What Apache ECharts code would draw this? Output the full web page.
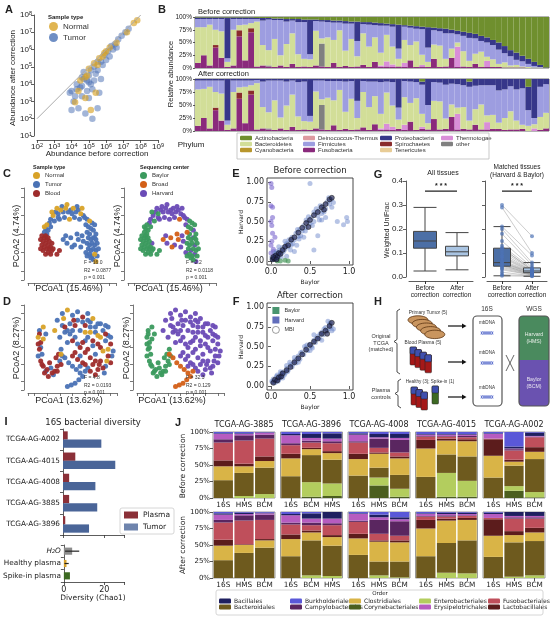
<!DOCTYPE html>
<html>
<head>
<meta charset="utf-8">
<script src="https://cdn.jsdelivr.net/npm/echarts@6/dist/echarts.min.js"></script>
<style>
html, body { margin: 0; padding: 0; background: #fff; }
#main { width: 554px; height: 621px; }
</style>
</head>
<body>
<div id="main"></div>
<script>
// ---------------- data ----------------
// A: abundance before / after correction
const aTumor = [[1.3e7,1e7],[7.9e6,6.3e6],[5e6,4e6],[3.2e6,2e6],[2e6,1.6e6],[1.3e6,7.9e5],[7.9e5,5e5],[5e5,2e5],
  [3.2e5,2e5],[2e5,1e5],[1.3e5,6.3e4],[1e5,3.2e4],[7.9e4,1.6e4],[5e4,2e4],[4e4,7.9e3],[3.2e4,6.3e3],[2e4,5e3],
  [1.6e4,2e3],[1e4,4e3],[1.3e4,1e3],[4e4,2e3],[7.9e4,4e3],[1.3e5,1e4],[2e5,1.6e4],[3.2e5,6.3e4],[1.6e5,5e3],
  [4e5,3.2e3],[2.5e4,4e2],[6.3e4,2e2],[1.6e5,1e2],[1e4,3.2e2],[3.2e5,4e2],[5e4,5e4],[6.3e5,1.3e5],[1.6e6,4e5],
  [4e6,1.3e6],[2e7,1.6e7],[1e6,2.5e5],[2.5e5,4e4],[2e4,1e4],[7.9e3,3.2e3],[1e5,1.6e3],[5e5,2e4],[2.5e6,1e6],
  [1e5,1.3e4],[4e4,2.5e4]];
const aNormal = [[4e7,3.5e7],[6.3e7,5e7],[1.6e7,1e7],[4e6,2.5e6],[1.6e6,1.3e6],[7.9e5,6.3e5],[4e5,3.2e5],[2e5,1.6e5],
  [1e5,7.9e4],[6.3e4,2.5e4],[3.2e4,1.6e4],[6.3e4,1.6e3],[2.5e5,3.2e3],[1.6e4,9e2],[1.3e5,3.2e2],[2.5e4,4e3],
  [6.3e5,4e5],[1e6,7.9e5],[3.2e5,1.3e5],[7.9e4,3.2e4]];
const aIdentity = [[1e2,1e2],[1e8,1e8]];

// B: phylum composition per sample, columns in stacking order
const bPhyla = ['Fusobacteria','Spirochaetes','other','Thermotogae','Bacteroidetes','Firmicutes','Proteobacteria','Actinobacteria'];
const bEmpty = ['Cyanobacteria','Deinococcus-Thermus','Tenericutes'];
const bBefore = [
  [10,0,0,0,70,16,3,1],[25,0,0,0,55,16,3,1],[5,0,0,0,80,11,3,1],[40,5,0,0,30,21,3,1],[20,0,0,0,52,24,3,1],
  [2,0,0,0,10,7,80,1],[5,0,0,0,70,21,3,1],[62,12,0,0,10,12,3,1],[15,0,0,0,70,11,3,1],[70,8,0,0,10,8,3,1],
  [3,0,0,0,88,5,2,2],[5,0,0,0,40,48,5,2],[3,0,2,0,30,60,3,2],[2,0,0,0,55,37,3,3],[5,0,0,0,20,69,3,3],
  [2,0,0,0,45,44,5,4],[8,0,0,0,60,25,3,4],[2,0,0,0,25,63,6,4],[3,0,0,0,15,72,5,5],[2,0,0,0,15,10,68,5],
  [5,0,0,0,68,19,3,5],[3,0,45,0,10,33,3,6],[2,0,0,0,58,30,4,6],[10,0,0,0,45,34,4,7],[2,0,0,0,72,15,4,7],
  [4,0,0,0,30,53,5,8],[2,0,0,0,55,30,4,9],[3,0,0,0,20,30,38,9],[6,0,0,0,62,18,4,10],[2,0,0,0,40,43,5,10],
  [12,0,0,0,48,24,5,11],[2,0,0,3,25,53,5,12],[3,0,0,10,52,18,4,13],[2,0,0,5,35,39,5,14],[3,0,0,0,15,20,47,15],
  [2,0,0,8,45,26,3,16],[15,0,0,0,30,34,4,17],[2,0,0,0,50,25,5,18],[3,0,0,3,20,50,5,19],[2,0,0,0,10,28,40,20],
  [18,0,0,0,28,28,5,21],[2,0,0,0,42,28,6,22],[3,0,0,0,15,50,9,23],[20,0,0,0,18,30,7,25],[2,0,0,40,8,16,7,27],
  [3,0,0,0,30,30,8,29],[2,0,0,0,12,45,10,31],[8,0,0,0,20,30,9,33],[2,0,0,0,30,21,10,37],[2,0,0,12,8,28,10,40],
  [2,0,0,0,15,28,10,45],[2,0,0,0,6,28,14,50],[1,0,0,0,10,18,14,57],[1,0,0,0,4,18,12,65],[1,0,0,0,5,10,14,70],
  [1,0,0,0,2,10,11,76],[0,0,0,0,2,6,10,82],[0,0,0,0,1,3,8,88],[0,0,0,0,1,1,4,94],[0,0,0,0,0,0,1,99]];
const bAfter = [
  [10,0,0,0,70,17,3,0],[25,0,0,0,56,16,3,0],[5,0,0,0,80,12,3,0],[40,5,0,0,30,22,3,0],[20,0,0,0,52,25,3,0],
  [2,0,0,0,10,8,80,0],[5,0,0,0,70,22,3,0],[62,12,0,0,10,13,3,0],[15,0,0,0,70,12,3,0],[70,8,0,0,10,9,3,0],
  [3,0,0,0,89,6,2,0],[5,0,0,0,41,49,5,0],[3,0,2,0,31,61,3,0],[2,0,0,0,57,38,3,0],[5,0,0,0,21,71,3,0],
  [2,0,0,0,47,46,5,0],[8,0,0,0,62,27,3,0],[2,0,0,0,26,66,6,0],[3,0,0,0,16,76,5,0],[2,0,0,0,16,11,71,0],
  [5,0,0,0,71,21,3,0],[3,0,47,0,11,36,3,0],[2,0,0,0,62,32,4,0],[11,0,0,0,48,37,4,0],[2,0,0,0,77,17,4,0],
  [4,0,0,0,33,58,5,0],[2,0,0,0,60,34,4,0],[3,0,0,0,22,33,42,0],[7,0,0,0,68,21,4,0],[2,0,0,0,44,49,5,0],
  [13,0,0,0,54,28,5,0],[2,0,0,3,28,61,6,0],[3,0,0,11,60,21,5,0],[2,0,0,6,41,45,6,0],[4,0,0,0,18,23,55,0],
  [2,0,0,10,53,31,4,0],[18,0,0,0,36,41,5,0],[2,0,0,0,61,31,6,0],[4,0,0,4,25,56,6,5],[3,0,0,0,12,35,50,0],
  [23,0,0,0,35,36,6,0],[3,0,0,0,54,36,7,0],[4,0,0,0,20,65,11,0],[27,0,0,0,24,40,9,0],[3,0,0,30,12,45,10,0],
  [4,0,0,0,42,42,12,0],[3,0,0,0,17,65,10,5],[12,0,0,0,30,45,13,0],[3,0,0,0,48,37,12,0],[3,0,0,14,13,58,12,0],
  [4,0,0,0,27,57,12,0],[4,0,0,0,12,62,22,0],[2,0,0,0,23,55,20,0],[3,0,0,0,35,48,14,0],[3,0,0,0,17,60,20,0],
  [4,0,0,0,8,70,18,0],[0,0,0,0,10,30,45,15],[0,0,0,5,8,12,75,0],[2,0,0,0,25,58,15,0],[5,0,0,0,30,55,10,0]];

// C / D: PCoA coordinates [PCoA1, PCoA2, sample type, sequencing center]
// type: N normal, T tumor, B blood; center: Y Baylor, R Broad, H Harvard
const cPoints = [
  [-0.25,-0.03,'B','Y'],[-0.24,-0.06,'B','Y'],[-0.23,-0.09,'B','Y'],[-0.22,-0.02,'B','Y'],[-0.21,-0.05,'B','Y'],
  [-0.20,-0.08,'B','Y'],[-0.19,-0.10,'B','Y'],[-0.18,-0.04,'B','Y'],[-0.17,-0.07,'B','Y'],[-0.16,-0.09,'B','Y'],
  [-0.24,-0.01,'B','Y'],[-0.22,-0.07,'B','Y'],[-0.20,-0.03,'B','Y'],[-0.18,-0.08,'B','Y'],[-0.16,-0.05,'B','H'],
  [-0.25,-0.08,'B','Y'],[-0.21,-0.11,'B','Y'],[-0.19,-0.06,'B','Y'],[-0.17,-0.11,'B','Y'],[-0.23,-0.04,'B','Y'],
  [-0.15,-0.08,'B','Y'],[-0.12,-0.11,'B','Y'],[-0.21,-0.01,'B','Y'],[-0.19,-0.02,'B','Y'],[-0.10,-0.09,'B','Y'],
  [-0.22,0.01,'T','Y'],[-0.21,0.03,'T','Y'],[-0.20,0.05,'N','Y'],[-0.19,0.02,'T','Y'],[-0.18,0.06,'T','H'],
  [-0.22,0.04,'N','Y'],[-0.17,0.04,'T','Y'],[-0.20,0.00,'T','Y'],
  [-0.17,0.08,'T','H'],[-0.15,0.10,'N','H'],[-0.13,0.12,'T','H'],[-0.11,0.11,'T','Y'],[-0.09,0.13,'N','H'],
  [-0.07,0.12,'T','H'],[-0.05,0.14,'N','H'],[-0.03,0.12,'T','H'],[-0.01,0.13,'T','H'],[0.01,0.14,'N','H'],
  [0.03,0.12,'T','H'],[0.05,0.13,'T','H'],[0.07,0.11,'N','H'],[0.09,0.10,'T','H'],[-0.14,0.07,'T','Y'],
  [-0.10,0.08,'T','H'],[-0.06,0.09,'T','H'],[-0.02,0.08,'N','H'],[0.02,0.09,'T','H'],[0.06,0.08,'T','R'],
  [-0.12,0.14,'N','H'],[-0.04,0.16,'N','H'],[0.00,0.11,'T','H'],[0.04,0.15,'T','H'],[-0.08,0.15,'T','H'],
  [0.08,0.14,'N','H'],[-0.16,0.12,'N','Y'],[-0.11,0.09,'T','H'],
  [0.10,0.09,'T','H'],[0.12,0.08,'T','H'],[0.14,0.07,'N','Y'],[0.16,0.06,'T','Y'],[0.11,0.05,'T','H'],
  [0.13,0.04,'T','Y'],[0.15,0.03,'T','Y'],[0.17,0.02,'T','H'],[0.18,0.05,'T','Y'],[0.12,0.01,'T','R'],
  [0.19,0.00,'T','Y'],[0.14,0.00,'T','Y'],
  [0.13,-0.02,'T','Y'],[0.15,-0.03,'T','Y'],[0.17,-0.02,'T','H'],[0.19,-0.03,'T','Y'],[0.12,-0.05,'T','Y'],
  [0.14,-0.06,'T','Y'],[0.16,-0.05,'T','Y'],[0.18,-0.06,'T','H'],[0.20,-0.05,'T','Y'],[0.13,-0.08,'T','Y'],
  [0.15,-0.09,'T','H'],[0.17,-0.08,'T','Y'],[0.19,-0.09,'T','Y'],[0.14,-0.11,'T','Y'],[0.16,-0.12,'T','Y'],
  [0.18,-0.11,'N','H'],[0.20,-0.12,'T','Y'],[0.17,-0.14,'T','Y'],[0.19,-0.15,'N','H'],[0.11,-0.10,'T','H'],
  [0.21,-0.08,'T','Y'],[0.15,-0.13,'T','Y'],[0.18,-0.02,'T','Y'],[0.12,-0.12,'T','Y'],
  [-0.07,-0.03,'T','R'],[-0.04,-0.05,'T','H'],[-0.01,-0.02,'T','R'],[0.02,-0.06,'T','H'],[0.05,-0.03,'T','R'],
  [0.07,-0.07,'T','H'],[0.09,-0.04,'T','H'],[0.00,-0.07,'T','R'],[-0.05,-0.01,'T','H'],[0.04,0.00,'T','R'],
  [0.08,-0.01,'T','H']];
const dPoints = [
  [-0.26,0.10,'T','Y'],[-0.27,0.06,'N','Y'],[-0.25,0.03,'B','Y'],[-0.26,-0.01,'B','Y'],[-0.24,-0.04,'T','Y'],
  [-0.25,-0.08,'B','Y'],[-0.23,-0.11,'B','Y'],[-0.20,-0.13,'B','Y'],[-0.17,-0.12,'T','Y'],[-0.14,-0.14,'B','Y'],
  [-0.12,-0.11,'B','Y'],[-0.10,-0.08,'T','Y'],[-0.11,-0.04,'B','Y'],[-0.09,-0.01,'T','Y'],[-0.22,-0.15,'B','Y'],
  [-0.18,-0.09,'B','Y'],[-0.21,0.08,'T','Y'],[-0.23,0.12,'N','Y'],[-0.15,-0.16,'T','Y'],[-0.19,-0.17,'B','Y'],
  [-0.13,-0.06,'B','Y'],[-0.27,-0.05,'T','Y'],[-0.26,0.08,'B','Y'],[-0.25,0.00,'T','Y'],[-0.24,-0.10,'B','Y'],
  [-0.21,-0.14,'T','Y'],[-0.16,-0.15,'B','Y'],[-0.12,-0.14,'B','Y'],[-0.09,-0.10,'B','Y'],[-0.08,-0.05,'T','Y'],
  [-0.23,0.05,'N','Y'],[-0.27,0.02,'B','Y'],
  [-0.12,0.16,'T','H'],[-0.08,0.20,'T','H'],[-0.04,0.22,'N','H'],[0.00,0.19,'T','H'],[0.04,0.21,'T','H'],
  [0.08,0.18,'B','H'],[0.12,0.20,'T','H'],[-0.14,0.10,'N','H'],[-0.06,0.12,'B','H'],[-0.02,0.08,'T','H'],
  [0.02,0.13,'B','H'],[0.06,0.10,'T','H'],[0.10,0.13,'B','H'],[0.14,0.12,'T','H'],[0.18,0.09,'T','H'],
  [0.22,0.06,'N','H'],[0.26,0.04,'T','H'],[0.30,0.02,'B','H'],[0.32,-0.02,'T','H'],[0.28,-0.05,'B','H'],
  [0.24,-0.02,'N','H'],[0.20,0.02,'B','H'],[0.16,0.04,'B','H'],[0.12,0.06,'T','H'],[0.08,0.03,'B','H'],
  [0.04,0.02,'T','H'],[0.00,0.04,'B','H'],[-0.04,0.03,'T','H'],[0.02,-0.03,'B','H'],[0.06,-0.05,'T','H'],
  [0.10,-0.03,'B','H'],[0.14,-0.06,'B','H'],[0.18,-0.04,'T','H'],[0.22,-0.08,'B','H'],[0.26,-0.11,'T','H'],
  [0.30,-0.09,'B','H'],[0.20,-0.13,'B','H'],[0.16,-0.10,'B','H'],[0.12,-0.12,'T','H'],[0.08,-0.09,'B','H'],
  [0.24,0.10,'T','H'],[0.20,0.14,'T','H'],[0.16,0.17,'N','H'],[0.28,0.07,'T','H'],[-0.10,0.06,'T','H'],
  [0.04,0.16,'T','H'],[-0.02,0.14,'T','H'],[0.10,0.09,'N','H'],[0.18,-0.16,'B','H'],[0.25,-0.15,'T','H'],
  [0.12,0.16,'T','H'],[0.00,0.10,'T','H'],[0.28,0.12,'T','H'],[-0.07,0.17,'N','H'],
  [-0.06,0.09,'T','H'],[0.00,-0.05,'B','H'],[0.02,0.06,'T','H'],[0.06,0.00,'B','H'],[0.10,0.04,'T','H'],
  [0.14,0.09,'N','H'],[0.18,0.12,'T','H'],[0.22,0.14,'T','H'],[0.26,0.08,'B','H'],[0.30,0.06,'T','H'],
  [0.22,0.00,'B','H'],[0.18,-0.08,'B','H'],[0.14,-0.14,'B','H'],[0.10,-0.10,'B','H'],[0.06,-0.11,'T','H'],
  [0.24,-0.12,'B','H'],[0.28,-0.01,'N','H'],[0.08,0.15,'T','H'],[-0.04,0.10,'T','H'],[0.16,0.01,'T','H'],
  [0.12,-0.01,'B','H'],[0.04,-0.07,'B','H'],[0.20,0.07,'N','H'],[0.26,0.13,'T','H'],[-0.08,0.13,'T','H'],
  [0.01,0.16,'B','H'],[0.14,0.15,'T','H'],[0.31,-0.05,'T','H'],[0.27,-0.08,'N','H'],[0.21,-0.10,'B','H'],
  [-0.06,-0.06,'T','R'],[-0.03,-0.09,'T','R'],[0.00,-0.11,'T','R'],[0.03,-0.13,'T','R'],[0.06,-0.15,'T','R'],
  [0.08,-0.17,'T','R'],[0.05,-0.19,'T','R'],[0.02,-0.21,'T','R'],[-0.01,-0.22,'T','R'],[-0.04,-0.23,'T','R'],
  [-0.09,-0.04,'N','R'],[0.10,-0.14,'T','R']];
const cStats = [['F = 16.0', 'R2 = 0.0877', 'p = 0.001'], ['F = 2.2', 'R2 = 0.0118', 'p = 0.001']];
const dStats = [['F = 4.8', 'R2 = 0.0193', 'p = 0.001'], ['F = 32.3', 'R2 = 0.129', 'p = 0.001']];

// E / F: relative abundance Baylor (x) vs Harvard (y)
const eBoth = [[0.02,0.03],[0.04,0.06],[0.06,0.04],[0.08,0.1],[0.1,0.07],[0.12,0.12],[0.05,0.1],[0.14,0.1],[0.15,0.17],
  [0.18,0.15],[0.2,0.22],[0.22,0.18],[0.25,0.25],[0.27,0.3],[0.3,0.27],[0.32,0.35],[0.35,0.31],[0.37,0.4],[0.4,0.38],
  [0.42,0.45],[0.45,0.42],[0.47,0.5],[0.5,0.47],[0.52,0.55],[0.55,0.5],[0.57,0.6],[0.6,0.57],[0.62,0.64],[0.65,0.6],
  [0.67,0.7],[0.7,0.66],[0.72,0.75],[0.75,0.72],[0.77,0.78],[0.8,0.74],[0.63,0.7],[0.55,0.62],[0.45,0.52],[0.38,0.32],
  [0.28,0.22],[0.18,0.25],[0.1,0.18],[0.97,0.55],[0.98,0.5],[0.93,0.46],[0.85,0.5],[0.5,0.98],[0.6,0.32],[0.55,0.14],
  [0.3,0.12],[0.2,0.06],[0.42,0.3],[0.65,0.52],[0.7,0.55],[0.08,0.03],[0.03,0.12],[0.13,0.05],[0.25,0.14],[0.33,0.2],
  [0.01,0.05],[0.03,0.02],[0.05,0.07],[0.07,0.12],[0.09,0.05],[0.11,0.14],[0.16,0.12],[0.19,0.2],[0.23,0.27],[0.26,0.2],
  [0.34,0.4],[0.36,0.28],[0.44,0.38],[0.48,0.56],[0.53,0.45],[0.58,0.66],[0.62,0.52],[0.68,0.62],[0.74,0.8],[0.78,0.68]];
const eMbi = [[0.02,0.02],[0.04,0.03],[0.06,0.07],[0.08,0.05],[0.1,0.1],[0.12,0.09],[0.15,0.14],[0.18,0.18],[0.22,0.2],
  [0.26,0.27],[0.3,0.3],[0.35,0.36],[0.4,0.42],[0.45,0.48],[0.5,0.52],[0.55,0.58],[0.6,0.62],[0.65,0.68],[0.7,0.72],
  [0.75,0.78],[0.78,0.8],[0.68,0.65],[0.48,0.43],[0.03,0.05],[0.07,0.02]];
const eHarvardOnly = [[0,0.98],[0.01,0.93],[0,0.7],[0.02,0.68],[0,0.5],[0.01,0.45],[0.02,0.35],[0.01,0.25],[0,0.2],
  [0.03,0.15],[0.05,0.3],[0.02,0.55],[0,0.1]];
const eBaylorOnly = [[0.12,0],[0.18,0.01],[0.22,0],[0.08,0]];
const fBoth = [[0.02,0.05],[0.04,0.07],[0.06,0.06],[0.08,0.1],[0.1,0.08],[0.12,0.14],[0.14,0.12],[0.16,0.18],[0.18,0.16],
  [0.2,0.22],[0.22,0.2],[0.25,0.27],[0.27,0.24],[0.3,0.32],[0.32,0.29],[0.35,0.38],[0.37,0.34],[0.4,0.43],[0.42,0.4],
  [0.45,0.48],[0.47,0.45],[0.5,0.53],[0.52,0.5],[0.55,0.58],[0.57,0.55],[0.6,0.63],[0.62,0.6],[0.65,0.68],[0.67,0.65],
  [0.7,0.74],[0.72,0.7],[0.75,0.78],[0.77,0.75],[0.73,0.82],[0.55,0.65],[0.43,0.5],[0.3,0.36],[0.2,0.26],[0.12,0.18],
  [0.08,0.14],[0.65,0.58],[0.5,0.45],[0.35,0.3],[0.15,0.1],[0.8,0.72],[0.78,0.7],
  [0.01,0.06],[0.03,0.09],[0.05,0.04],[0.07,0.12],[0.09,0.06],[0.11,0.1],[0.13,0.16],[0.17,0.14],[0.21,0.18],[0.24,0.3],
  [0.28,0.28],[0.33,0.34],[0.38,0.42],[0.46,0.52],[0.53,0.48],[0.58,0.6],[0.63,0.66],[0.68,0.72],[0.74,0.72],[0.76,0.8]];
const fMbi = [[0.03,0.04],[0.05,0.08],[0.08,0.07],[0.1,0.11],[0.13,0.12],[0.15,0.16],[0.2,0.2],[0.25,0.24],[0.3,0.3],
  [0.35,0.35],[0.4,0.4],[0.45,0.46],[0.5,0.52],[0.55,0.56],[0.6,0.6],[0.65,0.66],[0.7,0.7],[0.75,0.76],[0.78,0.8],[0.72,0.66]];

// G: weighted UniFrac, box stats [min, Q1, median, Q3, max]
const gCats = ['Before\ncorrection', 'After\ncorrection'];
const gAllBox = [[0.025, 0.12, 0.15, 0.19, 0.29], [0.03, 0.088, 0.105, 0.128, 0.185]];
const gMatchedBox = [[0.005, 0.045, 0.06, 0.12, 0.21], [0.003, 0.018, 0.025, 0.038, 0.06]];
const gMatchedBefore = [0.30,0.29,0.21,0.20,0.18,0.15,0.13,0.12,0.12,0.11,0.10,0.09,0.085,0.08,0.07,0.065,0.06,0.06,0.055,0.05,0.05,0.045,0.04,0.035,0.03,0.02,0.01,0.005];
const gMatchedAfter = [0.17,0.10,0.09,0.06,0.05,0.04,0.035,0.03,0.03,0.028,0.025,0.025,0.022,0.02,0.02,0.018,0.018,0.015,0.015,0.012,0.012,0.01,0.01,0.008,0.008,0.005,0.005,0.003];

// I: Chao1 diversity
const iSamples = ['TCGA-AG-A002', 'TCGA-AG-4015', 'TCGA-AG-4008', 'TCGA-AG-3885', 'TCGA-AG-3896'];
const iPlasma = [2.3, 6.0, 3.0, 3.0, 1.1];
const iTumor = [18.7, 25.5, 15.8, 16.7, 12.7];
const iControls = ['H2O', 'Healthy plasma', 'Spike-in plasma'];
const iControlMean = [4.1, 1.3, 3.0];
const iControlRange = [[0.6, 7.6], [0.3, 2.4]];

// J: order composition per sample / method, columns in stacking order
const jSamples = ['TCGA-AG-3885', 'TCGA-AG-3896', 'TCGA-AG-4008', 'TCGA-AG-4015', 'TCGA-AG-A002'];
const jMethods = [['16S','HMS','BCM'], ['16S','BCM','HMS'], ['16S','HMS','BCM'], ['16S','HMS','BCM'], ['16S','HMS','BCM']];
const jOrders = ['Corynebacteriales','Enterobacteriales','Bacteroidales','Clostridiales','Lactobacillales',
  'Fusobacteriales','Campylobacterales','Erysipelotrichales','Bacillales','Burkholderiales'];
const jBefore = [
  [[0,0,27,21,9,27,5,8,1,2], [0,3,35,10,4,35,8,2,1,2], [0,6,40,10,7,27,6,3,0.5,0.5]],
  [[0,0,33,27,7,13,3,12,2,3], [2,22,41,9,2,8,3,4,6,3], [3,19,36,10,3,12,3,4,8,2]],
  [[0,0,34,25,8,17,2,10,2,2], [19,12,15,21,2,7,14,2,5,3], [2,12,21,25,3,6,19,3,6,3]],
  [[0,0,32,43,13,5,1,2,1,3], [2,36,28,21,3,3,1,2,1,3], [2,24,37,23,3,3,2,2,1,3]],
  [[0,0,31,33,25,1,0,7,1,2], [11,7,31,6,3,14,2,1,3,22], [1,8,50,11,7,15,1,1,5,1]]];
const jAfter = [
  [[0,0,27,22,9,26,4,8,2,2], [0,0,38,12,1,36,8,2,2,1], [0,0,46,11,2,29,8,2,1,1]],
  [[0,0,33,26,7,15,3,11,2,3], [0,4,53,12,3,8,4,6,8,2], [0,3,46,13,3,15,3,7,10,0]],
  [[0,0,35,25,7,18,2,10,1,2], [0,4,21,30,2,10,21,4,4,4], [0,1,24,29,3,7,22,3,3,8]],
  [[0,0,33,42,13,5,1,3,1,2], [0,8,45,34,3,3,2,2,2,1], [0,7,50,31,3,3,1,2,2,1]],
  [[0,0,32,32,25,2,0,6,2,1], [0,2,52,11,6,19,2,2,6,0], [0,4,52,13,7,14,2,2,6,0]]];

// ---------------- styles ----------------
const FA = 'Liberation Sans', FM = 'DejaVu Sans', INK = '#222';
const phylumColor = {
  'Actinobacteria': '#6f8f2e', 'Bacteroidetes': '#d2de98', 'Cyanobacteria': '#b8962c', 'Deinococcus-Thermus': '#dd9aa0',
  'Firmicutes': '#9d9de0', 'Fusobacteria': '#8a2a7c', 'Proteobacteria': '#37378a', 'Spirochaetes': '#8a2c2c',
  'Tenericutes': '#e8cc96', 'Thermotogae': '#d98ed8', 'other': '#808080'
};
const orderColor = {
  'Corynebacteriales': '#4b5e1f', 'Enterobacteriales': '#b3cd5e', 'Bacteroidales': '#6e5a1e', 'Clostridiales': '#d9b447',
  'Lactobacillales': '#5c1c1c', 'Fusobacteriales': '#bf4f5b', 'Campylobacterales': '#5a2660',
  'Erysipelotrichales': '#b65cc0', 'Bacillales': '#1f2060', 'Burkholderiales': '#5a58d8'
};
const typeGroups = [['T', 'Tumor', '#4a72b5'], ['B', 'Blood', '#9e2b2b'], ['N', 'Normal', '#d8a227']];
const centerGroups = [['H', 'Harvard', '#6a4bb6'], ['Y', 'Baylor', '#3b9a5e'], ['R', 'Broad', '#d35f17']];

// ---------------- builders ----------------
const chart = echarts.init(document.getElementById('main'));
const grid = [], xAxis = [], yAxis = [], series = [], legend = [], graphic = [];

function addGrid(rect, xa, ya) {
  const i = grid.length;
  grid.push(Object.assign({ show: false }, rect));
  xAxis.push(Object.assign({ gridIndex: i }, xa));
  yAxis.push(Object.assign({ gridIndex: i }, ya));
  return i;
}
function on(gi, s) {
  s.xAxisIndex = gi;
  s.yAxisIndex = gi;
  series.push(s);
}
function txt(x, y, s, o) {
  o = o || {};
  const style = {
    text: s, fill: o.color || INK, fontSize: o.size || 8, fontFamily: o.font || FA,
    fontWeight: o.weight || 'normal', fontStyle: o.style || 'normal',
    textAlign: o.align || 'center', verticalAlign: o.va || 'middle'
  };
  if (o.lh) style.lineHeight = o.lh;
  graphic.push({ type: 'text', x: x, y: y, rotation: o.rot || 0, silent: true, z: 50, style: style });
}
function shape(type, sh, st, z) {
  graphic.push({ type: type, shape: sh, style: st, silent: true, z: z || 40 });
}
const axLine = (c, w) => ({ show: true, onZero: false, lineStyle: { color: c || '#333', width: w || 0.8 } });
const axTick = (len, c) => ({ show: true, length: len || 3, lineStyle: { color: c || '#333', width: 0.8 } });
const noSplit = { show: false };
const hidden = { type: 'value', show: false };
const pct = v => v + '%';

// ---------------- A ----------------
const supFmt = v => '10{e|' + Math.round(Math.log10(v)) + '}';
const supRich = { e: { fontSize: 5.5, verticalAlign: 'top', padding: [0, 0, 4, 0] } };
const logAxis = (min, max, off) => ({
  type: 'log', logBase: 10, min: min, max: max, splitNumber: 7, offset: off,
  axisLine: axLine(), axisTick: axTick(), splitLine: noSplit,
  axisLabel: { fontSize: 8, margin: 2, color: INK, fontFamily: FA, formatter: supFmt, rich: supRich }
});
const gA = addGrid({ left: 37, top: 15, width: 121, height: 121 }, logAxis(1e2, 1e9, 4), logAxis(1e1, 1e8, 3));
on(gA, { type: 'line', data: aIdentity, symbol: 'none', silent: true, lineStyle: { color: '#aaa', width: 1 } });
on(gA, { type: 'scatter', name: 'Tumor', data: aTumor, symbolSize: 6.5, itemStyle: { color: 'rgba(76,114,181,0.65)' } });
on(gA, { type: 'scatter', name: 'Normal', data: aNormal, symbolSize: 6.5, itemStyle: { color: 'rgba(216,162,39,0.8)' } });
legend.push({ left: 49, top: 22, padding: 0, orient: 'vertical', itemGap: 2, itemWidth: 9, itemHeight: 9, icon: 'circle',
  textStyle: { fontSize: 8, color: '#333', fontFamily: FA },
  data: [{ name: 'Normal', itemStyle: { color: '#d8a227' } }, { name: 'Tumor', itemStyle: { color: '#4a72b5' } }] });
txt(48, 17, 'Sample type', { size: 6, weight: 'bold', align: 'left' });
txt(13, 78, 'Abundance after correction', { size: 8, rot: Math.PI / 2 });
txt(97, 154, 'Abundance before correction', { size: 8 });

// ---------------- B ----------------
const bIdx = bBefore.map((r, i) => String(i));
const bGridOpt = { show: true, borderColor: '#444', borderWidth: 0.8, backgroundColor: 'transparent' };
const bX = { type: 'category', data: bIdx, axisLine: { show: false }, axisTick: { show: false }, axisLabel: { show: false } };
const bY = { type: 'value', min: 0, max: 100, interval: 25, axisLine: { show: false }, axisTick: axTick(2), splitLine: noSplit,
  axisLabel: { fontSize: 6.5, margin: 3, color: INK, formatter: pct } };
const gB1 = addGrid(Object.assign({ left: 195, top: 17, width: 354, height: 51 }, bGridOpt), bX, bY);
const gB2 = addGrid(Object.assign({ left: 195, top: 79, width: 354, height: 52 }, bGridOpt), bX, bY);
[[bBefore, gB1, 'before'], [bAfter, gB2, 'after']].forEach(([rows, gi, st]) => {
  bPhyla.forEach((name, k) => {
    on(gi, { type: 'bar', name: name, stack: st, barCategoryGap: '0%', itemStyle: { color: phylumColor[name] },
      data: rows.map(r => r[k] / r.reduce((a, b) => a + b, 0) * 100) });
  });
});
bEmpty.forEach(name => on(gB1, { type: 'bar', name: name, stack: 'before', itemStyle: { color: phylumColor[name] }, data: [] }));
[['Actinobacteria', 'Bacteroidetes', 'Cyanobacteria'], ['Deinococcus-Thermus', 'Firmicutes', 'Fusobacteria'],
 ['Proteobacteria', 'Spirochaetes', 'Tenericutes'], ['Thermotogae', 'other']].forEach((col, k) => {
  legend.push({ left: [240, 303, 380, 441][k], top: 135, padding: 0, orient: 'vertical', itemGap: 0, itemWidth: 12, itemHeight: 4.5,
    textStyle: { fontSize: 6, color: '#333', fontFamily: FA, padding: [0, 0, 0, -2] }, data: col });
});
shape('rect', { x: 237, y: 133, width: 252, height: 26 }, { fill: 'none', stroke: '#bbb', lineWidth: 0.8 });
txt(191, 145, 'Phylum', { size: 8 });
txt(198, 12, 'Before correction', { size: 7.5, align: 'left' });
txt(198, 74, 'After correction', { size: 7.5, align: 'left' });
txt(171, 74, 'Relative abundance', { size: 7.5, rot: Math.PI / 2 });

// ---------------- C / D ----------------
const pcoaX = { type: 'value', min: -0.35, max: 0.35, splitNumber: 6, offset: 3, axisLine: axLine('#555'), axisTick: axTick(3, '#555'),
  axisLabel: { show: false }, splitLine: noSplit };
const pcoaY = { type: 'value', min: -0.25, max: 0.25, splitNumber: 5, offset: 4, axisLine: axLine('#555'), axisTick: axTick(3, '#555'),
  axisLabel: { show: false }, splitLine: noSplit };
function pcoa(points, rect, key, groups) {
  const gi = addGrid(rect, pcoaX, pcoaY);
  groups.forEach(([code, name, color]) => {
    on(gi, { type: 'scatter', name: name, symbolSize: 5, itemStyle: { color: color, opacity: 0.95 },
      data: points.filter(p => p[key] === code).map(p => [p[0], p[1]]) });
  });
}
pcoa(cPoints, { left: 28, top: 188, width: 88, height: 92 }, 2, typeGroups);
pcoa(cPoints, { left: 128, top: 188, width: 88, height: 92 }, 3, centerGroups);
pcoa(dPoints, { left: 28, top: 305, width: 89, height: 85 }, 2, typeGroups);
pcoa(dPoints, { left: 137, top: 305, width: 87, height: 85 }, 3, centerGroups);
[[33, 'Sample type', typeGroups, [2, 0, 1]], [140, 'Sequencing center', centerGroups, [1, 2, 0]]].forEach(([x, title, groups, ord]) => {
  txt(x, 167, title, { size: 5.5, weight: 'bold', align: 'left' });
  legend.push({ left: x, top: 172, padding: 0, orient: 'vertical', itemGap: 2, itemWidth: 7, itemHeight: 7, icon: 'circle',
    textStyle: { fontSize: 6, color: '#333', fontFamily: FA },
    data: ord.map(i => ({ name: groups[i][1], itemStyle: { color: groups[i][2], opacity: 1 } })) });
});
[[cStats, 263, [84, 186]], [dStats, 378, [84, 186]]].forEach(([stats, y0, xs]) => {
  stats.forEach((lines, k) => lines.forEach((s, j) => txt(xs[k], y0 + j * 7.5, s, { size: 5, align: 'left', color: '#333' })));
});
txt(17, 236, 'PCoA2 (4.74%)', { size: 9, rot: Math.PI / 2 });
txt(118, 236, 'PCoA2 (4.74%)', { size: 9, rot: Math.PI / 2 });
txt(69, 289, 'PCoA1 (15.46%)', { size: 9 });
txt(169, 289, 'PCoA1 (15.46%)', { size: 9 });
txt(17, 348, 'PCoA2 (8.27%)', { size: 9, rot: Math.PI / 2 });
txt(127, 348, 'PCoA2 (8.27%)', { size: 9, rot: Math.PI / 2 });
txt(69, 401, 'PCoA1 (13.62%)', { size: 9 });
txt(172, 401, 'PCoA1 (13.62%)', { size: 9 });

// ---------------- E / F ----------------
const frameOpt = { show: true, borderColor: '#333', borderWidth: 0.9, backgroundColor: 'transparent' };
const eX = { type: 'value', min: 0, max: 1, interval: 0.5, offset: 4, axisLine: { show: false }, axisTick: axTick(3), splitLine: noSplit,
  axisLabel: { fontSize: 8, margin: 3, color: INK, fontFamily: FM, formatter: v => v.toFixed(1) } };
const eY = { type: 'value', min: 0, max: 1, interval: 0.25, offset: 4, axisLine: { show: false }, axisTick: axTick(3), splitLine: noSplit,
  axisLabel: { fontSize: 8, margin: 3, color: INK, fontFamily: FM, formatter: v => v.toFixed(2) } };
function corr(top, sets, title) {
  addGrid(Object.assign({ left: 267, top: top - 4, width: 86, height: 87 }, frameOpt), hidden, hidden);
  const gi = addGrid({ left: 271, top: top, width: 78, height: 79 }, eX, eY);
  sets.forEach(([name, data, color, border]) => {
    on(gi, { type: 'scatter', name: name, data: data, symbolSize: 5, clip: false,
      itemStyle: { color: color, borderColor: border || 'transparent', borderWidth: border ? 0.6 : 0 } });
  });
  txt(310, top - 11, title, { size: 8.5, font: FM });
  txt(310, top + 100, 'Baylor', { size: 6, font: FM });
  txt(241, top + 40, 'Harvard', { size: 6, font: FM, rot: Math.PI / 2 });
}
corr(182, [['Both', eBoth, 'rgba(90,120,195,0.55)'], ['Harvard only', eHarvardOnly, 'rgba(120,100,205,0.75)'],
  ['Baylor only', eBaylorOnly, 'rgba(70,150,90,0.85)'], ['MBI', eMbi, 'rgba(35,40,85,0.85)', '#111']], 'Before correction');
corr(307, [['Both', fBoth, 'rgba(90,120,195,0.55)'], ['MBI', fMbi, 'rgba(35,40,85,0.85)', '#111']], 'After correction');
legend.push({ left: 272, top: 307, padding: 0, orient: 'vertical', itemGap: 2.5, itemWidth: 7, itemHeight: 7,
  textStyle: { fontSize: 5.5, color: '#333', fontFamily: FA },
  data: [{ name: 'Baylor', icon: 'rect', itemStyle: { color: '#3f8f68' } },
         { name: 'Harvard', icon: 'rect', itemStyle: { color: '#5a66b8' } },
         { name: 'MBI', icon: 'circle', itemStyle: { color: '#fff', borderColor: '#666', borderWidth: 0.8 } }] });

// ---------------- G ----------------
const gYl = { type: 'value', min: 0, max: 0.4, interval: 0.1, offset: 3, axisLine: axLine(), axisTick: axTick(3), splitLine: noSplit,
  axisLabel: { fontSize: 8, margin: 3, color: INK, fontFamily: FA, formatter: v => v.toFixed(1) } };
const gYr = Object.assign({}, gYl, { offset: 2, axisLabel: { show: false } });
const gX = { type: 'category', data: gCats, offset: 4, axisLine: axLine(), axisTick: { show: true, alignWithLabel: true, length: 3 },
  axisLabel: { interval: 0, fontSize: 6.5, lineHeight: 7.5, margin: 3, color: INK, fontFamily: FA } };
const gG1 = addGrid({ left: 409, top: 181, width: 64, height: 96 }, gX, gYl);
const gG2 = addGrid({ left: 487, top: 181, width: 60, height: 96 }, gX, gYr);
const boxColors = ['#4c6fa6', '#a9c4e2'];
on(gG2, { type: 'lines', coordinateSystem: 'cartesian2d', silent: true, z: 1,
  lineStyle: { color: '#9a9a9a', width: 0.6, opacity: 0.85 },
  data: gMatchedBefore.map((b, i) => ({ coords: [[0, b], [1, gMatchedAfter[i]]] })) });
[[gG1, gAllBox, 23], [gG2, gMatchedBox, 17]].forEach(([gi, box, w]) => {
  on(gi, { type: 'boxplot', boxWidth: [w, w], z: 2, itemStyle: { borderColor: '#444', borderWidth: 1 },
    data: box.map((v, i) => ({ value: v, itemStyle: { color: boxColors[i] } })) });
  on(gi, { type: 'line', data: [[0, 0.358], [1, 0.358]], symbol: 'none', silent: true, lineStyle: { color: '#222', width: 1.2 } });
});
on(gG2, { type: 'scatter', z: 3, symbolSize: 4, itemStyle: { color: 'rgba(76,114,181,0.85)' }, data: gMatchedBefore.map(v => [0, v]) });
on(gG2, { type: 'scatter', z: 3, symbolSize: 4, itemStyle: { color: 'rgba(76,114,181,0.85)' }, data: gMatchedAfter.map(v => [1, v]) });
txt(441, 186, '* * *', { size: 7, weight: 'bold' });
txt(517, 186, '* * *', { size: 7, weight: 'bold' });
txt(443, 173, 'All tissues', { size: 7 });
txt(517, 171, 'Matched tissues\n(Harvard & Baylor)', { size: 6.5, lh: 8 });
txt(387, 230, 'Weighted UniFrac', { size: 7, rot: Math.PI / 2 });

// ---------------- H (diagram) ----------------
const arrow = (x1, x2, y) => {
  shape('line', { x1: x1, y1: y, x2: x2, y2: y }, { stroke: '#111', lineWidth: 1.2 });
  shape('polygon', { points: [[x2, y - 2.5], [x2 + 4.5, y], [x2, y + 2.5]] }, { fill: '#111' });
};
const tube = (x, y, body) => {
  shape('rect', { x: x, y: y, width: 6.5, height: 18, r: 1 }, { fill: body, stroke: '#222', lineWidth: 0.5 }, 41);
  shape('rect', { x: x, y: y, width: 6.5, height: 7, r: 1 }, { fill: '#3f4fae', stroke: '#222', lineWidth: 0.5 }, 41);
};
const helix = (cx, cy) => {
  const pts1 = [], pts2 = [];
  for (let k = 0; k <= 6; k++) {
    pts1.push([cx - 6 + k * 2, cy + (k % 2 ? -1.6 : 1.6)]);
    pts2.push([cx - 6 + k * 2, cy + (k % 2 ? 1.6 : -1.6)]);
  }
  shape('polyline', { points: pts1, smooth: 0.6 }, { stroke: '#4a5fc8', lineWidth: 0.8, fill: null });
  shape('polyline', { points: pts2, smooth: 0.6 }, { stroke: '#4a5fc8', lineWidth: 0.8, fill: null });
};
const brace = (x, y1, y2) => {
  const ym = (y1 + y2) / 2;
  shape('polyline', { points: [[x + 3, y1], [x, y1 + 2], [x, ym - 2], [x - 3, ym], [x, ym + 2], [x, y2 - 2], [x + 3, y2]] },
    { stroke: '#222', lineWidth: 0.8, fill: null });
};
txt(381, 343, 'Original\nTCGA\n(matched)', { size: 5.5, lh: 6.5, color: '#333' });
txt(381, 394, 'Plasma\ncontrols', { size: 5.5, lh: 6.5, color: '#333' });
brace(397, 309, 374);
brace(398, 379, 408);
txt(428, 313, 'Primary Tumor (5)', { size: 4.8, color: '#333' });
[0, 1, 2, 3, 4].forEach(k => shape('ellipse', { cx: 418 + k * 4.2, cy: 320 + k * 3.6, rx: 10, ry: 4.2 },
  { fill: '#c9955f', stroke: '#5a3412', lineWidth: 0.8 }, 41 + k));
txt(423, 343, 'Blood Plasma (5)', { size: 4.8, color: '#333' });
[0, 1, 2, 3].forEach(k => tube(410 + k * 5, 347 + k * 2.6, '#a51818'));
txt(430, 382, 'Healthy (3); Spike-in (1)', { size: 4.6, color: '#333' });
[0, 1, 2].forEach(k => tube(411 + k * 5, 387 + k * 2.5, '#a51818'));
tube(432, 386, '#3e6a24');
arrow(448, 462, 326);
arrow(448, 462, 362);
arrow(448, 462, 397);
shape('rect', { x: 473, y: 316, width: 29, height: 90, r: 4 }, { fill: '#fff', stroke: '#555', lineWidth: 1.2 });
txt(487, 309, '16S', { size: 6.5, color: '#333' });
[[323, 333], [353, 363], [388, 397]].forEach(([ty, hy]) => { txt(487, ty, 'mbDNA', { size: 4.6, color: '#333' }); helix(487, hy); });
shape('line', { x1: 506, y1: 355, x2: 514, y2: 371 }, { stroke: '#555', lineWidth: 0.9 });
shape('line', { x1: 514, y1: 355, x2: 506, y2: 371 }, { stroke: '#555', lineWidth: 0.9 });
shape('rect', { x: 519, y: 316, width: 30, height: 44, r: [4, 4, 0, 0] }, { fill: '#4a8a5e', stroke: null });
shape('rect', { x: 519, y: 360, width: 30, height: 46, r: [0, 0, 4, 4] }, { fill: '#6a52b0', stroke: null });
shape('rect', { x: 519, y: 316, width: 30, height: 90, r: 4 }, { fill: 'none', stroke: '#555', lineWidth: 1.2 }, 42);
txt(534, 309, 'WGS', { size: 6.5, color: '#333' });
txt(534, 338, 'Harvard\n(HMS)', { size: 5.2, lh: 6.5, color: '#e8eee8' });
txt(534, 383, 'Baylor\n(BCM)', { size: 5.2, lh: 6.5, color: '#e8e4f0' });

// ---------------- I ----------------
const iX = (labels) => ({ type: 'value', min: 0, max: 30, interval: 20, axisLine: axLine(), axisTick: axTick(3), splitLine: noSplit,
  axisLabel: { show: labels, fontSize: 8, margin: 4, color: INK, fontFamily: FM, formatter: v => (v % 20 === 0 ? v : '') } });
const iYbase = { type: 'category', inverse: true, axisLine: axLine(), axisTick: axTick(3),
  axisLabel: { interval: 0, fontSize: 7.3, margin: 3, color: INK, fontFamily: FM } };
const gI1 = addGrid({ left: 63, top: 429, width: 61.5, height: 106 }, iX(false), Object.assign({}, iYbase, { data: iSamples }));
on(gI1, { type: 'bar', name: 'Plasma', data: iPlasma, barGap: '0%', barCategoryGap: '22%', itemStyle: { color: '#8b3038' } });
on(gI1, { type: 'bar', name: 'Tumor', data: iTumor, barGap: '0%', barCategoryGap: '22%', itemStyle: { color: '#4a6598' } });
const gI2 = addGrid({ left: 63, top: 545, width: 61.5, height: 37 }, iX(true), Object.assign({}, iYbase, {
  data: iControls,
  axisLabel: { interval: 0, fontSize: 7.3, margin: 3, color: INK, fontFamily: FM,
    formatter: v => (v === 'H2O' ? '{i|H}{s|2}{i|O}' : v),
    rich: { i: { fontStyle: 'italic', fontSize: 7.3, fontFamily: FM }, s: { fontStyle: 'italic', fontSize: 5, fontFamily: FM, verticalAlign: 'bottom' } } }
}));
on(gI2, { type: 'bar', barCategoryGap: '42%', data: iControlMean.map((v, i) => ({ value: v, itemStyle: { color: ['#8c8c8c', '#d8a32e', '#3d6a22'][i] } })) });
on(gI2, { type: 'custom', silent: true, z: 5, encode: { x: [1, 2], y: 0 },
  data: iControlRange.map((r, i) => [i, r[0], r[1]]),
  renderItem: (params, api) => {
    const a = api.coord([api.value(1), api.value(0)]);
    const b = api.coord([api.value(2), api.value(0)]);
    return { type: 'line', shape: { x1: a[0], y1: a[1], x2: b[0], y2: b[1] }, style: { stroke: '#222', lineWidth: 1.2 } };
  } });
legend.push({ left: 120, top: 508, orient: 'vertical', itemGap: 4, itemWidth: 14, itemHeight: 7, padding: [3, 4, 3, 4],
  borderColor: '#ccc', borderWidth: 0.8, borderRadius: 2, backgroundColor: '#fff',
  textStyle: { fontSize: 7.5, color: INK, fontFamily: FM },
  data: [{ name: 'Plasma', icon: 'rect', itemStyle: { color: '#8b3038' } }, { name: 'Tumor', icon: 'rect', itemStyle: { color: '#4a6598' } }] });
txt(93, 423, '16S bacterial diversity', { size: 8.5, font: FM });
txt(93, 598, 'Diversity (Chao1)', { size: 7.5, font: FM });

// ---------------- J ----------------
[[jBefore, 432], [jAfter, 512]].forEach(([table, top]) => {
  jSamples.forEach((name, g) => {
    const first = g === 0;
    const gi = addGrid({ left: 213 + g * 67.5, top: top, width: 62, height: 66, show: true, borderColor: '#999', borderWidth: 1, backgroundColor: 'transparent' },
      { type: 'category', data: jMethods[g], axisLine: { show: false }, axisTick: { show: true, length: 3, alignWithLabel: true, lineStyle: { color: '#555' } },
        axisLabel: { interval: 0, fontSize: 7.3, margin: 4, color: INK, fontFamily: FM } },
      { type: 'value', min: 0, max: 100, interval: 25, axisLine: { show: false }, splitLine: noSplit,
        axisTick: { show: first, length: 3, lineStyle: { color: '#555' } },
        axisLabel: { show: first, fontSize: 7, margin: 3, color: INK, fontFamily: FM, formatter: pct } });
    jOrders.forEach((ord, k) => {
      on(gi, { type: 'bar', name: ord, stack: 'j' + gi, barCategoryGap: '7%', itemStyle: { color: orderColor[ord] },
        data: table[g].map(r => r[k] / r.reduce((a, b) => a + b, 0) * 100) });
    });
    if (top === 432) txt(244 + g * 67.5, 425, name, { size: 8, font: FM });
  });
});
[['Bacillales', 'Bacteroidales'], ['Burkholderiales', 'Campylobacterales'], ['Clostridiales', 'Corynebacteriales'],
 ['Enterobacteriales', 'Erysipelotrichales'], ['Fusobacteriales', 'Lactobacillales']].forEach((col, k) => {
  legend.push({ left: [219, 290, 349, 419, 488][k], top: 598, padding: 0, orient: 'vertical', itemGap: 0, itemWidth: 12, itemHeight: 5,
    textStyle: { fontSize: 6, color: INK, fontFamily: FM, padding: [0, 0, 0, -2] }, data: col });
});
shape('rect', { x: 216, y: 590, width: 327, height: 25, r: 2 }, { fill: 'none', stroke: '#ccc', lineWidth: 0.8 });
txt(380, 594, 'Order', { size: 5.5, font: FM });
txt(183, 466, 'Before correction', { size: 7.5, font: FM, rot: Math.PI / 2 });
txt(183, 545, 'After correction', { size: 7.5, font: FM, rot: Math.PI / 2 });

// ---------------- panel letters ----------------
[['A', 9, 10], ['B', 162, 10], ['C', 7, 174], ['D', 7, 302], ['E', 236, 174], ['F', 236, 302],
 ['G', 378, 175], ['H', 378, 302], ['I', 6, 422], ['J', 178, 423]].forEach(([s, x, y]) => txt(x, y, s, { size: 11, weight: 'bold' }));

chart.setOption({
  backgroundColor: '#fff',
  animation: false,
  textStyle: { fontFamily: FA },
  grid: grid, xAxis: xAxis, yAxis: yAxis, series: series, legend: legend, graphic: graphic
});
</script>
</body>
</html>
